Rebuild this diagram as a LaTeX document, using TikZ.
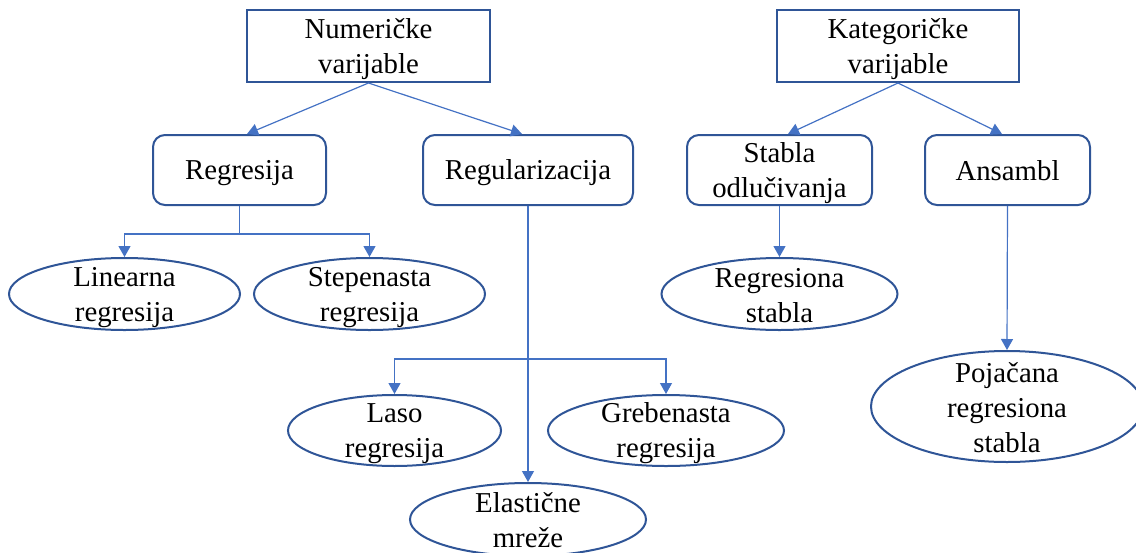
\documentclass[tikz,border=0pt]{standalone}
\usepackage{fontspec}
\setmainfont{Liberation Serif}
\usetikzlibrary{arrows.meta,shapes.geometric}
\definecolor{boxblue}{HTML}{2F5597}
\definecolor{linkblue}{HTML}{4472C4}
\newcommand\ls{\rule[-5pt]{0pt}{31pt}}
\begin{document}
\begin{tikzpicture}[x=1pt,y=-1pt,
  txtfont/.style={font=\fontsize{28.8}{35}\selectfont},
  sq/.style={draw=boxblue, line width=2pt, rectangle, inner sep=0pt, align=center, txtfont},
  rbox/.style={sq, rounded corners=12pt},
  ell/.style={draw=boxblue, line width=2pt, ellipse, inner sep=0pt},
  lbl/.style={inner sep=0pt, align=center, txtfont},
  link/.style={draw=linkblue, line width=1.2pt, -{Triangle[width=12pt,length=11pt]}}]
\useasboundingbox (0,0) rectangle (1136,552);

% top level
\node[sq, minimum width=243pt, minimum height=72pt] (num) at (368.5,46) {\ls Numeričke\\\ls varijable};
\node[sq, minimum width=242pt, minimum height=72pt] (kat) at (898,46) {\ls Kategoričke\\\ls varijable};

% second level
\node[rbox, minimum width=173pt, minimum height=70pt] (reg) at (239.5,170) {\ls Regresija};
\node[rbox, minimum width=210pt, minimum height=70pt] (regu) at (528,170) {\ls Regularizacija};
\node[rbox, minimum width=185pt, minimum height=70pt] (sta) at (779.5,170) {\ls Stabla\\\ls odlučivanja};
\node[rbox, minimum width=165pt, minimum height=70pt] (ans) at (1007.5,170) {\ls Ansambl};

% ellipses
\node[ell, minimum width=231pt, minimum height=72pt] (lin) at (124.5,294) {};
\node[lbl] (lin-t) at (lin) {\ls Linearna\\\ls regresija};
\node[ell, minimum width=231pt, minimum height=72pt] (ste) at (369.5,294) {};
\node[lbl] (ste-t) at (ste) {\ls Stepenasta\\\ls regresija};
\node[ell, minimum width=236pt, minimum height=72pt] (rst) at (779.5,294) {};
\node[lbl] (rst-t) at (rst) {\ls Regresiona\\\ls stabla};
\node[ell, minimum width=213pt, minimum height=71pt] (laso) at (394.5,430.5) {};
\node[lbl] (laso-t) at (laso) {\ls Laso\\\ls regresija};
\node[ell, minimum width=236pt, minimum height=71pt] (greb) at (666,430.5) {};
\node[lbl] (greb-t) at (greb) {\ls Grebenasta\\\ls regresija};
\node[ell, minimum width=236pt, minimum height=73pt] (ela) at (528,519.5) {};
\node[lbl] (ela-t) at (ela) {\ls Elastične\\\ls mreže};
\node[ell, minimum width=272pt, minimum height=111pt] (poj) at (1007,406.5) {};
\node[lbl] (poj-t) at (poj) {\ls Pojačana\\\ls regresiona\\\ls stabla};

% connectors
\draw[link] (num.south) -- ([xshift=7.5pt]reg.north);
\draw[link] (num.south) -- ([xshift=-6pt]regu.north);
\draw[link] (kat.south) -- ([xshift=8.5pt]sta.north);
\draw[link] (kat.south) -- ([xshift=-5.5pt]ans.north);

\draw[link] (reg.south) -- ++(0,28) -| (lin.north);
\draw[link] (reg.south) -- ++(0,28) -| (ste.north);

\draw[link] (regu.south) -- ++(0,153) -| (laso.north);
\draw[link] (regu.south) -- ++(0,153) -| (greb.north);
\draw[link] (regu.south) -- (ela.north);

\draw[link] (sta.south) -- (rst.north);
\draw[link] (ans.south) -- (poj.north);
\end{tikzpicture}
\end{document}
